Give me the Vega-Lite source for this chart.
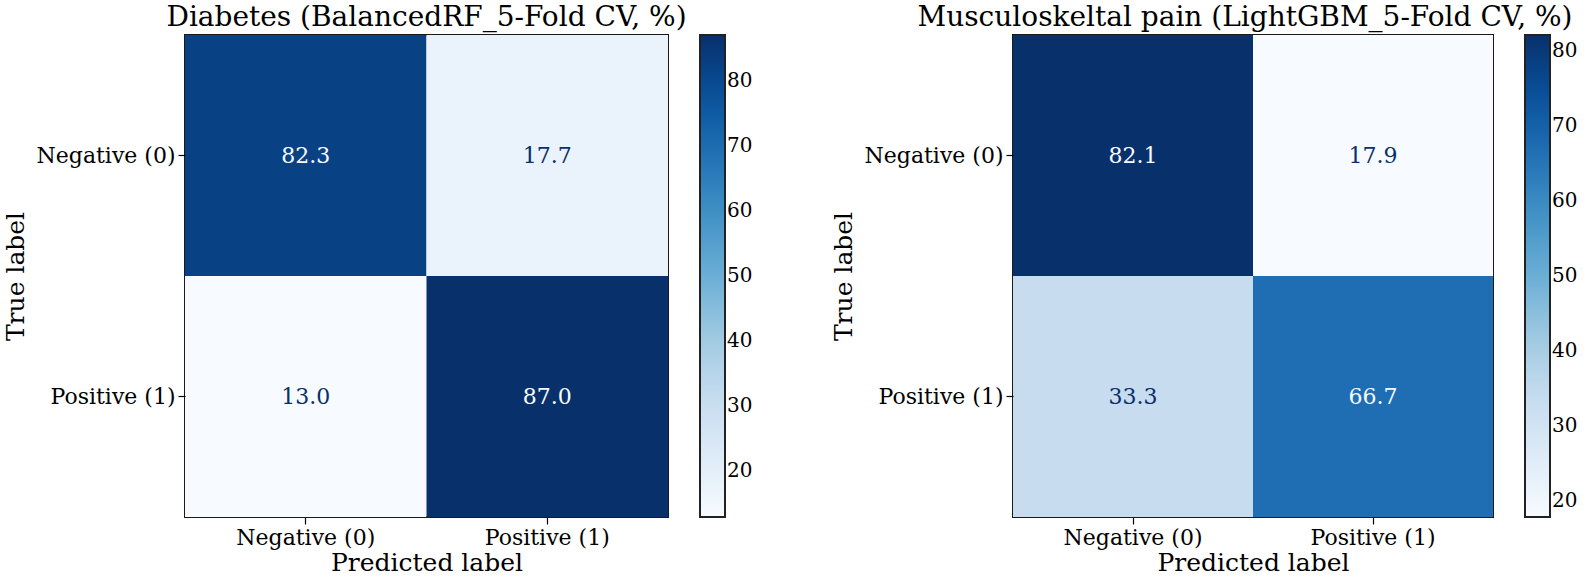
{
  "$schema": "https://vega.github.io/schema/vega-lite/v6.json",
  "background": "white",
  "padding": {"left": 2, "top": 3, "right": 0, "bottom": 0},
  "spacing": 76,
  "config": {
    "view": {"stroke": "#1a1a1a", "strokeWidth": 2},
    "title": {"font": "DejaVu Serif", "fontSize": 28, "fontWeight": "normal", "color": "#000", "offset": 3, "anchor": "middle"},
    "axis": {"labelFont": "DejaVu Serif", "labelFontSize": 22, "titleFont": "DejaVu Serif", "titleFontSize": 25, "titleFontWeight": "normal", "labelColor": "#000", "titleColor": "#000", "tickColor": "#000", "tickSize": 7, "tickWidth": 1.2, "domain": false, "grid": false, "labelPadding": 3},
    "axisX": {"titlePadding": 2, "labelAngle": 0},
    "axisY": {"titlePadding": 8, "labelAngle": 0},
    "legend": {"gradientThickness": 25, "gradientStrokeColor": "#222", "gradientStrokeWidth": 2, "labelFont": "DejaVu Serif", "labelFontSize": 20, "labelColor": "#000", "labelOffset": 14, "offset": 32, "labelOverlap": false, "padding": 0}
  },
  "resolve": {"scale": {"color": "independent"}, "legend": {"color": "independent"}},
  "hconcat": [
    {
      "title": {"text": "Diabetes (BalancedRF_5-Fold CV, %)"},
      "width": 483,
      "height": 482,
      "data": {"values": [
        {"actual": "Negative (0)", "pred": "Negative (0)", "value": 82.3},
        {"actual": "Negative (0)", "pred": "Positive (1)", "value": 17.7},
        {"actual": "Positive (1)", "pred": "Negative (0)", "value": 13.0},
        {"actual": "Positive (1)", "pred": "Positive (1)", "value": 87.0}
      ]},
      "encoding": {
        "x": {"field": "pred", "type": "nominal", "sort": ["Negative (0)", "Positive (1)"], "scale": {"paddingInner": 0, "paddingOuter": 0}, "axis": {"title": "Predicted label"}},
        "y": {"field": "actual", "type": "nominal", "sort": ["Negative (0)", "Positive (1)"], "scale": {"paddingInner": 0, "paddingOuter": 0}, "axis": {"title": "True label"}}
      },
      "layer": [
        {
          "mark": {"type": "rect"},
          "encoding": {
            "color": {"field": "value", "type": "quantitative",
              "scale": {"domain": [13, 22.25, 31.5, 40.75, 50, 59.25, 68.5, 77.75, 87], "range": ["#f7fbff", "#deebf7", "#c6dbef", "#9ecae1", "#6baed6", "#4292c6", "#2171b5", "#08519c", "#08306b"], "interpolate": "rgb"},
              "legend": {"title": null, "values": [20, 30, 40, 50, 60, 70, 80], "gradientLength": 482}}
          }
        },
        {
          "mark": {"type": "text", "font": "DejaVu Serif", "fontSize": 22},
          "encoding": {
            "text": {"field": "value", "type": "quantitative", "format": ".1f"},
            "color": {"condition": {"test": "datum.value > 50", "value": "#f7fbff"}, "value": "#08306b"}
          }
        }
      ]
    },
    {
      "title": {"text": "Musculoskeltal pain (LightGBM_5-Fold CV, %)", "dx": -8},
      "width": 480,
      "height": 482,
      "data": {"values": [
        {"actual": "Negative (0)", "pred": "Negative (0)", "value": 82.1},
        {"actual": "Negative (0)", "pred": "Positive (1)", "value": 17.9},
        {"actual": "Positive (1)", "pred": "Negative (0)", "value": 33.3},
        {"actual": "Positive (1)", "pred": "Positive (1)", "value": 66.7}
      ]},
      "encoding": {
        "x": {"field": "pred", "type": "nominal", "sort": ["Negative (0)", "Positive (1)"], "scale": {"paddingInner": 0, "paddingOuter": 0}, "axis": {"title": "Predicted label"}},
        "y": {"field": "actual", "type": "nominal", "sort": ["Negative (0)", "Positive (1)"], "scale": {"paddingInner": 0, "paddingOuter": 0}, "axis": {"title": "True label"}}
      },
      "layer": [
        {
          "mark": {"type": "rect"},
          "encoding": {
            "color": {"field": "value", "type": "quantitative",
              "scale": {"domain": [17.9, 25.925, 33.95, 41.975, 50, 58.025, 66.05, 74.075, 82.1], "range": ["#f7fbff", "#deebf7", "#c6dbef", "#9ecae1", "#6baed6", "#4292c6", "#2171b5", "#08519c", "#08306b"], "interpolate": "rgb"},
              "legend": {"title": null, "values": [20, 30, 40, 50, 60, 70, 80], "gradientLength": 482}}
          }
        },
        {
          "mark": {"type": "text", "font": "DejaVu Serif", "fontSize": 22},
          "encoding": {
            "text": {"field": "value", "type": "quantitative", "format": ".1f"},
            "color": {"condition": {"test": "datum.value > 50", "value": "#f7fbff"}, "value": "#08306b"}
          }
        }
      ]
    }
  ]
}
